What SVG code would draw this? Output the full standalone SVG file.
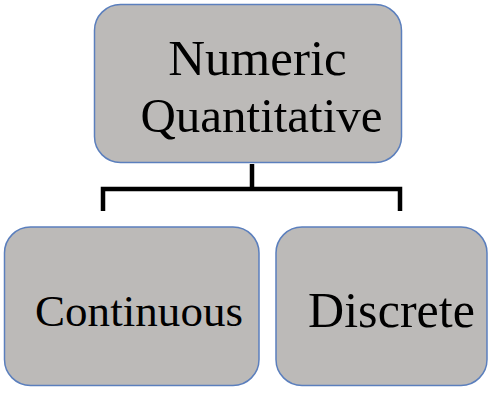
<svg xmlns="http://www.w3.org/2000/svg" width="495" height="416" viewBox="0 0 495 416">
<style>
.box{fill:#bcbab8;stroke:#5b7fbd;stroke-width:1.5}
.t{fill:#000}
.c{fill:none;stroke:#000;stroke-width:4.5}
</style>
<rect width="495" height="416" fill="#fff"/>
<g id="connectors">
<path class="c" d="M252,164 V189"/>
<path class="c" d="M103,211 V189 H400 V211"/>
</g>
<g id="numeric-quantitative">
<rect class="box" x="94.5" y="4.5" width="307" height="158" rx="26"/>
<text class="t" font-family="'Liberation Serif', serif" x="257.5" y="75" font-size="51" text-anchor="middle">Numeric</text>
<text class="t" font-family="'Liberation Serif', serif" x="261.5" y="132" font-size="49" text-anchor="middle">Quantitative</text>
</g>
<g id="continuous">
<rect class="box" x="4.5" y="227" width="254.5" height="158.5" rx="26"/>
<text class="t" font-family="'Liberation Serif', serif" x="35" y="326" font-size="45" textLength="208">Continuous</text>
</g>
<g id="discrete">
<rect class="box" x="276" y="227" width="211" height="158.5" rx="26"/>
<text class="t" font-family="'Liberation Serif', serif" x="308" y="327" font-size="50" textLength="167">Discrete</text>
</g>
</svg>
